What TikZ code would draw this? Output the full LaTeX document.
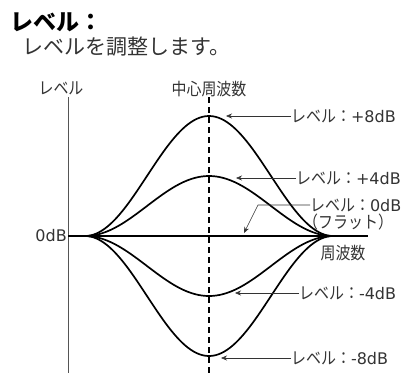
\documentclass[tikz,border=0pt]{standalone}
\usepackage{fontspec}
\setmainfont{Noto Sans CJK JP}
\newfontfamily\cjknarrow[FakeStretch=0.88]{Noto Sans CJK JP}
\newfontfamily\latnfont{DejaVu Sans}
\newcommand{\dbval}[1]{{\latnfont\fontsize{16}{18}\selectfont #1}}
\usetikzlibrary{arrows.meta,positioning}
\definecolor{ink}{HTML}{333333}
\definecolor{axisgray}{HTML}{555555}
\tikzset{
  lbl/.style={font=\cjknarrow\fontsize{17}{19}\selectfont,text=ink,inner sep=0pt},
  headbox/.style={font=\fontsize{23}{25}\selectfont\bfseries,text=black,inner sep=0pt},
  descbox/.style={font=\fontsize{21}{23}\selectfont,text=ink,inner sep=0pt},
  curve/.style={draw=black,line width=1.7pt},
  leader/.style={-{Stealth[length=6pt,width=5pt]},draw=ink,line width=0.6pt},
}

\begin{document}
\begin{tikzpicture}[x=1pt,y=-1pt]
    \useasboundingbox (0,0) rectangle (402,373);
    % heading
    \node[headbox,anchor=west] (title) at (10,22) {レベル：};
    \node[descbox,anchor=west] (desc) at (22,47) {レベルを調整します。};

    % axes
    \node[lbl] (ylabel) at (61,88) {レベル};
    \node[lbl] (fclabel) at (209,89) {中心周波数};
    \node[lbl,anchor=east] (zerolabel) at (67,236) {\dbval{0dB}};
    \node[lbl] (xlabel) at (343,253) {周波数};
    \coordinate (ytop) at (68,97);
    \coordinate (ybot) at (68,373);
    \coordinate (xend) at (368,236);
    \coordinate (ftop) at (209,97);
    \coordinate (fbot) at (209,373);
    \draw[axisgray,line width=0.8pt] (ytop) -- (ybot);
    \draw[black,line width=1.2pt,dash pattern=on 6pt off 4pt] (ftop) -- (fbot);
    \draw[curve] (zerolabel.east -| ytop) -- (xend);

    % level curves
    \foreach \h in {120,60,-60,-120}
      \draw[curve] plot[domain=85:333,samples=90,smooth] (\x,{236-\h*(1+cos(1.4516*(\x-209)))/2});

    % labels
    \node[lbl,anchor=west] (lbl_p8) at (291,116) {レベル：\dbval{+8dB}};
    \node[lbl,anchor=west] (lbl_p4) at (296,178) {レベル：\dbval{+4dB}};
    \node[lbl,anchor=west] (lbl_0) at (310,205) {レベル：\dbval{0dB}};
    \node[lbl,anchor=west] (lbl_flat) at (303,222) {（フラット）};
    \node[lbl,anchor=west] (lbl_m4) at (299,293) {レベル：\dbval{-4dB}};
    \node[lbl,anchor=west] (lbl_m8) at (291,358) {レベル：\dbval{-8dB}};
    \coordinate (tip_p8) at (226,116);
    \coordinate (tip_p4) at (236,178);
    \coordinate (bend_0) at (258,205);
    \coordinate (tip_0) at (244,233);
    \coordinate (tip_m4) at (235,293);
    \coordinate (tip_m8) at (221,358);
    \draw[leader] (lbl_p8.west) -- (tip_p8);
    \draw[leader] (lbl_p4.west) -- (tip_p4);
    \draw[leader] (lbl_0.west) -- (bend_0) -- (tip_0);
    \draw[leader] (lbl_m4.west) -- (tip_m4);
    \draw[leader] (lbl_m8.west) -- (tip_m8);
\end{tikzpicture}
\end{document}
